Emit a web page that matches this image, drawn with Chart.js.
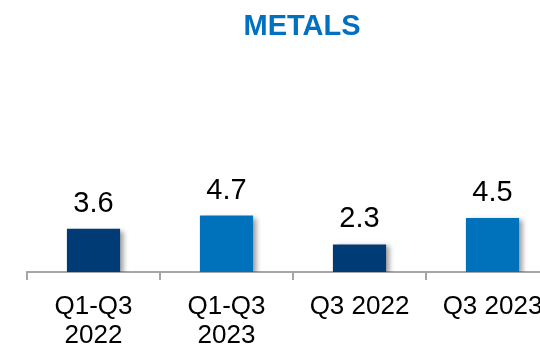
<!DOCTYPE html>
<html>
<head>
<meta charset="utf-8">
<script src="https://cdn.jsdelivr.net/npm/chart.js@4/dist/chart.umd.min.js"></script>
<style>
html, body { margin: 0; padding: 0; overflow: hidden; background: #fff; width: 540px; height: 345px; }
#wrap { width: 560px; height: 345px; }
</style>
</head>
<body>
<div id="wrap"><canvas id="c" width="560" height="345"></canvas></div>
<script>
const titleText = 'METALS';
const categories = [['Q1-Q3', '2022'], ['Q1-Q3', '2023'], 'Q3 2022', 'Q3 2023'];
const values = [3.6, 4.7, 2.3, 4.5];
const valueLabels = ['3.6', '4.7', '2.3', '4.5'];
const barColors = ['#003b75', '#0072bc', '#003b75', '#0072bc'];

const FONT = '"Liberation Sans", Arial, Helvetica, sans-serif';

const shadowPlugin = {
  id: 'barShadow',
  beforeDatasetsDraw(chart) {
    const ctx = chart.ctx;
    ctx.save();
    ctx.shadowColor = 'rgba(0,0,0,0.38)';
    ctx.shadowOffsetX = 4;
    ctx.shadowOffsetY = 2;
    ctx.shadowBlur = 5;
  },
  afterDatasetsDraw(chart) {
    chart.ctx.restore();
  }
};

const valuePlugin = {
  id: 'valueLabels',
  afterDatasetsDraw(chart) {
    const ctx = chart.ctx;
    const meta = chart.getDatasetMeta(0);
    ctx.save();
    ctx.font = '29px ' + FONT;
    ctx.fillStyle = '#000';
    ctx.textAlign = 'center';
    ctx.textBaseline = 'alphabetic';
    meta.data.forEach((bar, i) => {
      ctx.fillText(valueLabels[i], bar.x, bar.y - 17);
    });
    ctx.restore();
  }
};

const titlePlugin = {
  id: 'customTitle',
  afterDraw(chart) {
    const ctx = chart.ctx;
    ctx.save();
    ctx.font = 'bold 29px ' + FONT;
    ctx.fillStyle = '#0070c0';
    ctx.textAlign = 'center';
    ctx.textBaseline = 'alphabetic';
    ctx.fillText(titleText, 302, 35);
    ctx.restore();
  }
};

new Chart(document.getElementById('c'), {
  type: 'bar',
  data: {
    labels: categories,
    datasets: [{
      data: values,
      backgroundColor: barColors,
      borderWidth: 0,
      barPercentage: 0.4,
      categoryPercentage: 1.0
    }]
  },
  options: {
    responsive: false,
    animation: false,
    events: [],
    layout: { padding: { left: 27, right: 1, top: 152, bottom: 0 } },
    plugins: {
      legend: { display: false },
      title: { display: false },
      tooltip: { enabled: false }
    },
    scales: {
      x: {
        offset: true,
        grid: {
          display: true,
          offset: true,
          drawOnChartArea: false,
          drawTicks: true,
          tickLength: 8,
          color: '#a6a6a6',
          lineWidth: 2
        },
        border: { display: true, color: '#a6a6a6', width: 2 },
        ticks: {
          color: '#000',
          padding: 12,
          maxRotation: 0,
          autoSkip: false,
          font: { family: FONT, size: 26, lineHeight: 1.12 }
        },
        afterFit(scale) { scale.height = 73; }
      },
      y: {
        display: false,
        min: 0,
        max: 10
      }
    }
  },
  plugins: [shadowPlugin, valuePlugin, titlePlugin]
});
</script>
</body>
</html>
